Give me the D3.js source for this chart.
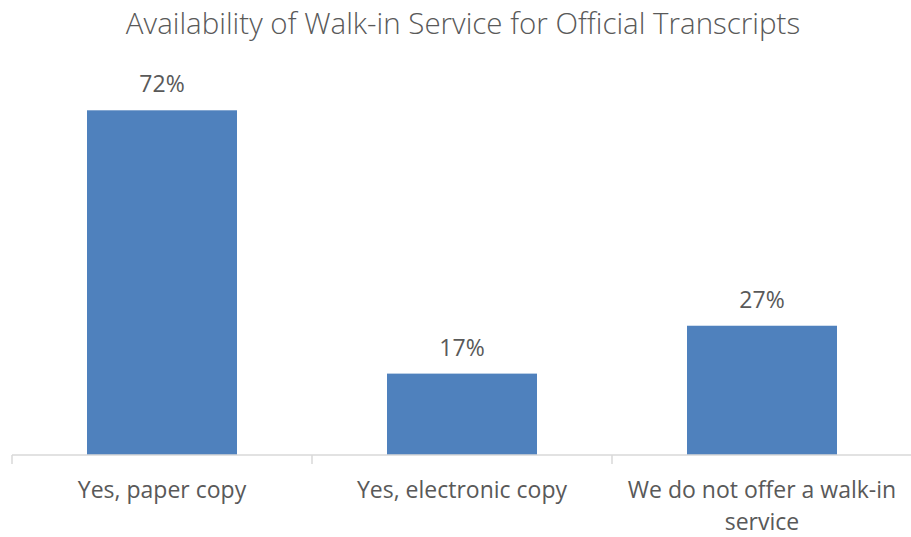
<!DOCTYPE html>
<html>
<head>
<meta charset="utf-8">
<script src="https://cdn.jsdelivr.net/npm/d3@7"></script>
<style>
  body { margin: 0; background: #fff; }
  text { font-family: "Open Sans", "Noto Sans", sans-serif; fill: #595959; }
</style>
</head>
<body>
<div id="chart"></div>
<script>
var width = 911;
var height = 537;

var title = "Availability of Walk-in Service for Official Transcripts";
var categories = ["Yes, paper copy", "Yes, electronic copy", "We do not offer a walk-in service"];
var values = [0.72, 0.17, 0.27];
var valueLabels = ["72%", "17%", "27%"];

var plotLeft = 12, plotRight = 912, baseline = 455, plotTop = 72;

/* Scales */
var xScale = d3.scaleBand()
    .domain(categories)
    .range([plotLeft, plotRight])
    .paddingInner(0.5)
    .paddingOuter(0.25);

var yScale = d3.scaleLinear()
    .domain([0, 0.8])
    .range([baseline, plotTop]);

var svg = d3.select("#chart").append("svg")
    .attr("width", width)
    .attr("height", height);

/* Title */
svg.append("text")
    .attr("x", 463)
    .attr("y", 34)
    .attr("text-anchor", "middle")
    .style("font-size", "29.5px")
    .style("font-weight", "300")
    .text(title);

/* Bars */
svg.append("g").selectAll("rect")
    .data(categories).enter()
    .append("rect")
    .attr("x", d => xScale(d))
    .attr("width", xScale.bandwidth())
    .attr("y", (d, i) => yScale(values[i]))
    .attr("height", (d, i) => baseline - yScale(values[i]))
    .attr("fill", "#4F81BD");

/* Value labels */
svg.append("g").selectAll("text")
    .data(categories).enter()
    .append("text")
    .attr("x", d => xScale(d) + xScale.bandwidth() / 2)
    .attr("y", (d, i) => yScale(values[i]) - 18)
    .attr("text-anchor", "middle")
    .style("font-size", "23px")
    .text((d, i) => valueLabels[i]);

/* X axis: ticks at band boundaries */
var step = xScale.step();
var boundaries = d3.range(categories.length + 1).map(i => plotLeft + i * step);
var axis = svg.append("g");
axis.append("line")
    .attr("x1", plotLeft).attr("x2", plotRight)
    .attr("y1", baseline).attr("y2", baseline)
    .attr("stroke", "#d9d9d9").attr("stroke-width", 1.5);
axis.selectAll(".tick")
    .data(boundaries).enter()
    .append("line")
    .attr("x1", d => d).attr("x2", d => d)
    .attr("y1", baseline).attr("y2", baseline + 9)
    .attr("stroke", "#d9d9d9").attr("stroke-width", 1.5);

/* Category labels, wrapped to fit the band */
var lines = [["Yes, paper copy"], ["Yes, electronic copy"], ["We do not offer a walk-in", "service"]];
axis.selectAll(".cat")
    .data(categories).enter()
    .append("text")
    .attr("text-anchor", "middle")
    .style("font-size", "23px")
    .each(function(d, i) {
        var t = d3.select(this);
        lines[i].forEach(function(l, j) {
            t.append("tspan")
                .attr("x", xScale(d) + xScale.bandwidth() / 2)
                .attr("y", 498 + j * 32)
                .text(l);
        });
    });
</script>
</body>
</html>
